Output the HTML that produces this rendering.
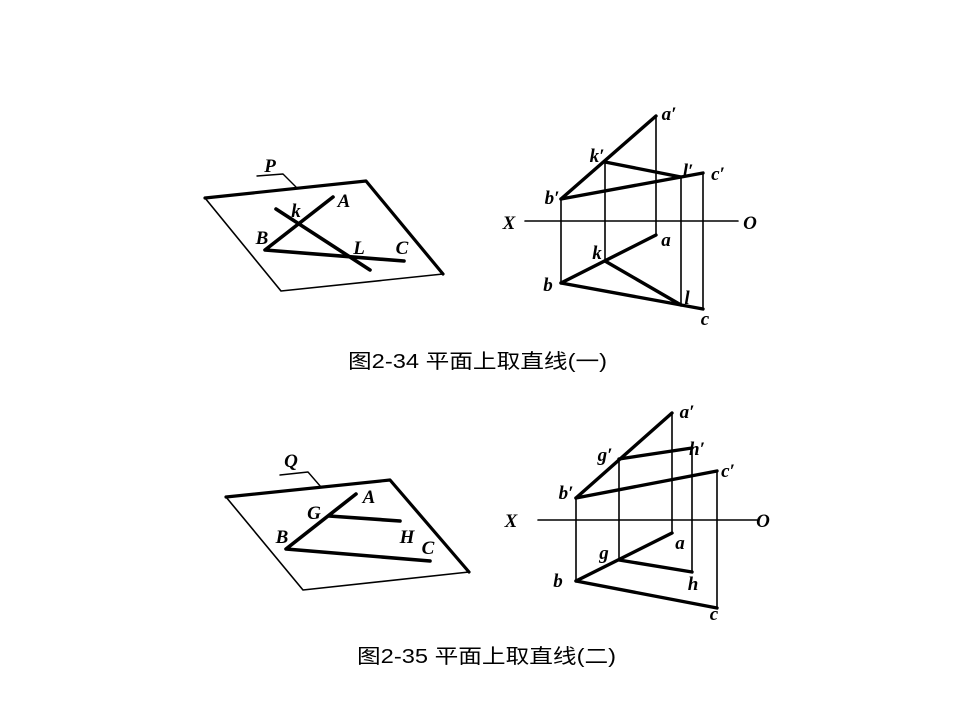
<!DOCTYPE html>
<html><head><meta charset="utf-8"><style>
html,body{margin:0;padding:0;background:#fff;}
svg{display:block;}
.l{font-family:"Liberation Serif",serif;font-style:italic;font-weight:bold;font-size:19px;fill:#000;text-anchor:middle;}
.cap{font-family:"Liberation Sans","Noto Sans CJK SC",sans-serif;font-size:20px;fill:#000;}
</style></head><body>
<svg width="960" height="720" viewBox="0 0 960 720" xmlns="http://www.w3.org/2000/svg">
<g stroke="#000" fill="none" stroke-linecap="round" stroke-linejoin="round">
<polyline points="205,198 366,181 443,274" stroke-width="3.2"/>
<polyline points="205,198 281,291 443,274" stroke-width="1.6"/>
<polyline points="257,176 283,174 296,187" stroke-width="1.4"/>
<polyline points="333,197 265,250 404,261" stroke-width="3.6"/>
<line x1="276" y1="209" x2="370" y2="270" stroke-width="3.6"/>
<line x1="525" y1="221" x2="738" y2="221" stroke-width="1.6"/>
<g stroke-width="1.6">
<line x1="561" y1="199" x2="561" y2="283"/>
<line x1="605" y1="162" x2="605" y2="261"/>
<line x1="656" y1="116" x2="656" y2="235"/>
<line x1="681" y1="177" x2="681" y2="305"/>
<line x1="703" y1="173" x2="703" y2="309"/>
</g>
<g stroke-width="3.4">
<line x1="656" y1="116" x2="561" y2="199"/>
<line x1="605" y1="162" x2="681" y2="177"/>
<line x1="561" y1="199" x2="703" y2="173"/>
<line x1="656" y1="235" x2="561" y2="283"/>
<line x1="605" y1="261" x2="681" y2="305"/>
<line x1="561" y1="283" x2="703" y2="309"/>
</g>
<polyline points="226,497 390,480 469,572" stroke-width="3.2"/>
<polyline points="226,497 303,590 469,572" stroke-width="1.6"/>
<polyline points="280,475 308,472 321,487" stroke-width="1.4"/>
<polyline points="356,494 286,549 430,561" stroke-width="3.6"/>
<line x1="329" y1="516" x2="400" y2="521" stroke-width="3.6"/>
<line x1="538" y1="520" x2="757" y2="520" stroke-width="1.6"/>
<g stroke-width="1.6">
<line x1="576" y1="498" x2="576" y2="581"/>
<line x1="619" y1="459" x2="619" y2="560"/>
<line x1="672" y1="413" x2="672" y2="533"/>
<line x1="692" y1="448" x2="692" y2="572"/>
<line x1="717" y1="471" x2="717" y2="608"/>
</g>
<g stroke-width="3.4">
<line x1="672" y1="413" x2="576" y2="498"/>
<line x1="619" y1="459" x2="692" y2="448"/>
<line x1="576" y1="498" x2="717" y2="471"/>
<line x1="672" y1="533" x2="576" y2="581"/>
<line x1="619" y1="560" x2="692" y2="572"/>
<line x1="576" y1="581" x2="717" y2="608"/>
</g>
</g>
<g class="l">
<text x="270" y="172">P</text>
<text x="296" y="217">k</text>
<text x="344" y="207">A</text>
<text x="262" y="244">B</text>
<text x="359" y="254">L</text>
<text x="402" y="254">C</text>
<text x="509" y="229">X</text>
<text x="750" y="229">O</text>
<text x="669" y="120">a′</text>
<text x="597" y="162">k′</text>
<text x="688" y="177">l′</text>
<text x="718" y="180">c′</text>
<text x="552" y="204">b′</text>
<text x="666" y="246">a</text>
<text x="597" y="259">k</text>
<text x="548" y="291">b</text>
<text x="687" y="304">l</text>
<text x="705" y="325">c</text>

<text x="291" y="467">Q</text>
<text x="369" y="503">A</text>
<text x="314" y="519">G</text>
<text x="282" y="543">B</text>
<text x="407" y="543">H</text>
<text x="428" y="554">C</text>
<text x="511" y="527">X</text>
<text x="763" y="527">O</text>
<text x="687" y="418">a′</text>
<text x="605" y="461">g′</text>
<text x="697" y="455">h′</text>
<text x="728" y="477">c′</text>
<text x="566" y="499">b′</text>
<text x="680" y="549">a</text>
<text x="604" y="559">g</text>
<text x="693" y="590">h</text>
<text x="558" y="587">b</text>
<text x="714" y="620">c</text>
</g>
<text class="cap" x="348" y="368" textLength="259" lengthAdjust="spacingAndGlyphs">图2-34  平面上取直线(一)</text>
<text class="cap" x="357" y="663" textLength="259" lengthAdjust="spacingAndGlyphs">图2-35  平面上取直线(二)</text>
</svg>
</body></html>
